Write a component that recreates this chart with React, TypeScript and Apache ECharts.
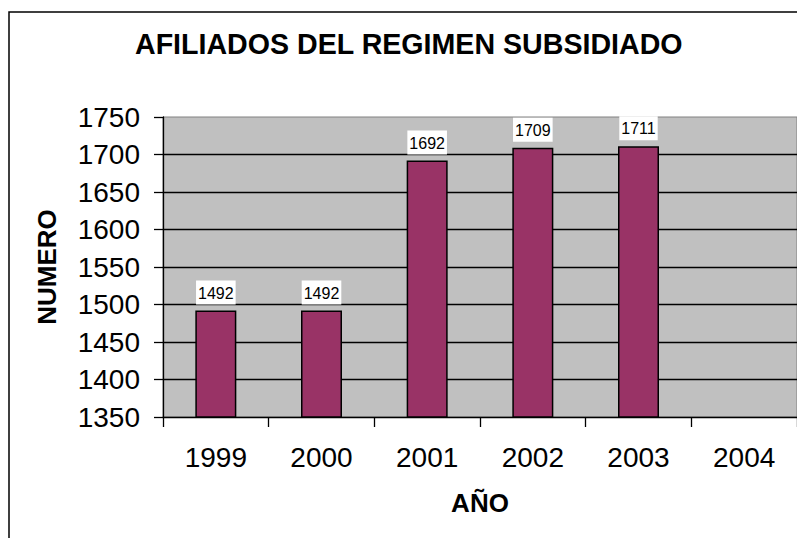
import React, { useEffect, useRef } from "react";
import * as echarts from "echarts";

const categories = ["1999", "2000", "2001", "2002", "2003", "2004"];
const values: (number | null)[] = [1492, 1492, 1692, 1709, 1711, null];
const yMin = 1350;
const yMax = 1750;
const yStep = 50;
const titleText = "AFILIADOS DEL REGIMEN SUBSIDIADO";
const xName = "AÑO";
const yName = "NUMERO";

const FONT = "'Liberation Sans', Arial, Helvetica, sans-serif";

export default function App() {
  const ref = useRef<HTMLDivElement>(null);
  useEffect(() => {
    if (!ref.current) return;
    const chart = echarts.init(ref.current, null, { renderer: "svg" });
    chart.setOption({
      animation: false,
      backgroundColor: "#ffffff",
      textStyle: { fontFamily: FONT },
      title: {
        text: titleText,
        left: 135,
        top: 29,
        padding: 0,
        textStyle: { fontFamily: FONT, fontSize: 28.6, fontWeight: "bold", color: "#000" },
      },
      graphic: [
        {
          type: "rect",
          shape: { x: 9, y: 12, width: 820, height: 560 },
          style: { fill: "none", stroke: "#000", lineWidth: 1.5 },
          silent: true,
          z: 100,
        },
      ],
      grid: {
        left: 163,
        top: 117,
        width: 636,
        height: 300,
        show: true,
        backgroundColor: "#C0C0C0",
        borderColor: "#808080",
        borderWidth: 1,
      },
      xAxis: {
        type: "category",
        data: categories,
        boundaryGap: true,
        name: xName,
        nameLocation: "middle",
        nameGap: 73,
        nameTextStyle: { fontFamily: FONT, fontSize: 26, fontWeight: "bold", color: "#000" },
        axisLine: { show: true, lineStyle: { color: "#000", width: 1.3 } },
        axisTick: { show: true, length: 10, alignWithLabel: false, lineStyle: { color: "#000", width: 1.3 } },
        axisLabel: { fontFamily: FONT, fontSize: 28, color: "#000", margin: 26, interval: 0 },
        splitLine: { show: false },
      },
      yAxis: {
        type: "value",
        min: yMin,
        max: yMax,
        interval: yStep,
        name: yName,
        nameLocation: "middle",
        nameGap: 103,
        nameRotate: 90,
        nameTextStyle: { fontFamily: FONT, fontSize: 26, fontWeight: "bold", color: "#000" },
        axisLine: { show: true, lineStyle: { color: "#000", width: 1.3 } },
        axisTick: { show: true, length: 9, lineStyle: { color: "#000", width: 1.3 } },
        axisLabel: {
          fontFamily: FONT,
          fontSize: 28,
          color: "#000",
          margin: 23,
          formatter: (v: number) => String(v),
        },
        splitLine: { show: true, showMaxLine: false, showMinLine: false, lineStyle: { color: "#000", width: 1.3 } },
      },
      series: [
        {
          type: "bar",
          data: values,
          barWidth: 41,
          itemStyle: { color: "#993366", borderColor: "#000", borderWidth: 1.5 },
          label: {
            show: true,
            position: "top",
            distance: 6,
            fontFamily: FONT,
            fontSize: 16,
            lineHeight: 17,
            color: "#000",
            backgroundColor: "#ffffff",
            padding: [4, 2, 3, 2],
          },
        },
      ],
    });
    return () => chart.dispose();
  }, []);
  return (
    <div
      ref={ref}
      style={{ position: "fixed", left: 0, top: 0, width: 797, height: 538 }}
    />
  );
}
